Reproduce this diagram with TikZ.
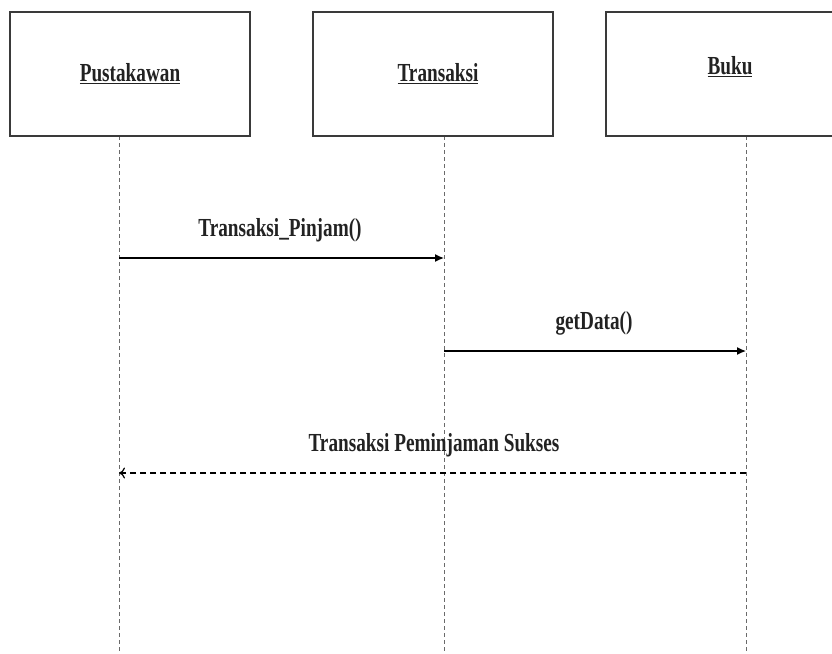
\documentclass[tikz,border=0pt]{standalone}
\usepackage{fontspec}
\setmainfont{Liberation Serif}[FakeStretch=0.74]
\usetikzlibrary{arrows.meta}
\definecolor{boxline}{HTML}{3A3A3A}
\definecolor{lifeline}{HTML}{6A6A6A}
\definecolor{txt}{HTML}{222222}
\newcommand{\ulbl}[1]{\underline{#1}}
\tikzset{
  objbox/.style={draw=boxline, line width=1.4pt, minimum width=240pt, minimum height=124pt, inner sep=0pt, fill=white, text=txt, font=\fontsize{26}{30}\selectfont\bfseries},
  lbl/.style={inner sep=0pt, text=txt, font=\fontsize{26}{30}\selectfont\bfseries},
  lifel/.style={draw=lifeline, line width=0.9pt, dash pattern=on 4pt off 3pt},
  callmsg/.style={draw=black, line width=1.3pt, -{Latex[length=9pt,width=8pt]}},
  retmsg/.style={draw=black, line width=1.2pt, dash pattern=on 6pt off 4pt, -{To[length=6pt,width=11pt]}}
}
\begin{document}
\begin{tikzpicture}[x=1pt,y=-1pt]
\useasboundingbox (0,0) rectangle (832,653);
\clip (0,0) rectangle (832,653);
% lifelines
\coordinate (p1) at (119,136);
\coordinate (p2) at (119,653);
\coordinate (t1) at (444,136);
\coordinate (t2) at (444,653);
\coordinate (b1) at (746,136);
\coordinate (b2) at (746,653);
\draw[lifel] (p1) -- (p2);
\draw[lifel] (t1) -- (t2);
\draw[lifel] (b1) -- (b2);
% objects
\node[objbox] (pust) at (130,74) {\ulbl{Pustakawan}};
\node[objbox] (trans) at (433,74) {\hspace{10pt}\ulbl{Transaksi}};
\node[objbox] (buku) at (726,74) {};
\node[lbl] (bukut) at (730,67) {\ulbl{Buku}};
% messages
\coordinate (m1s) at (119,258);
\coordinate (m1e) at (444,258);
\coordinate (m2s) at (444,351);
\coordinate (m2e) at (746,351);
\coordinate (m3s) at (746,473);
\coordinate (m3e) at (119,473);
\draw[callmsg] (m1s) -- (m1e);
\draw[callmsg] (m2s) -- (m2e);
\draw[retmsg] (m3s) -- (m3e);
\node[lbl] (l1) at (280,230) {Transaksi\_Pinjam()};
\node[lbl] (l2) at (594,323) {getData()};
\node[lbl] (l3) at (434,445) {Transaksi Peminjaman Sukses};
\end{tikzpicture}
\end{document}
